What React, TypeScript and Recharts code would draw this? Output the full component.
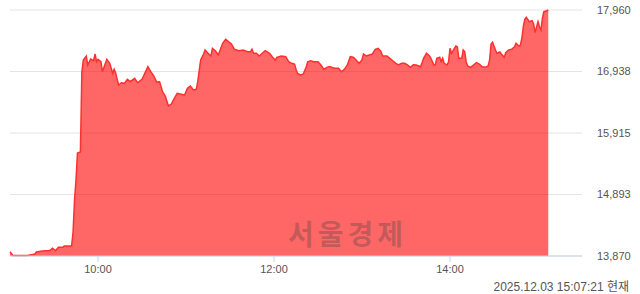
import React from 'react';
import { AreaChart, Area, XAxis, YAxis, CartesianGrid } from 'recharts';

// minutes after 09:00
const minutes = [
  0, 2, 7, 12, 17, 18, 22, 27, 29, 31, 33, 36, 37, 42, 43, 44, 45, 46, 48, 49,
  50, 52, 53, 55, 57, 58, 59, 60, 62, 63, 66, 68, 70, 71, 72, 74, 76, 78, 80, 82,
  85, 87, 90, 92, 94, 96, 98, 100, 102, 104, 106, 108, 110, 112, 114, 116, 119, 121, 123, 125,
  127, 128, 130, 132, 133, 135, 137, 138, 140, 142, 145, 147, 149, 151, 153, 156, 159, 162, 164, 165,
  166, 168, 170, 172, 174, 177, 179, 181, 182, 185, 188, 190, 192, 194, 195, 196, 198, 200, 202, 203,
  205, 207, 210, 212, 214, 216, 218, 221, 224, 226, 228, 230, 232, 234, 236, 238, 240, 241, 243, 245,
  247, 249, 251, 253, 254, 257, 259, 261, 263, 265, 267, 269, 271, 273, 275, 277, 280, 282, 284, 286,
  287, 289, 290, 291, 293, 294, 295, 296, 298, 299, 300, 301, 303, 304, 305, 306, 308, 309, 310, 311,
  312, 314, 316, 318, 320, 322, 324, 326, 327, 328, 329, 331, 332, 334, 335, 337, 338, 340, 342, 344,
  345, 347, 348, 349, 350, 351, 352, 353, 354, 356, 357, 358, 360, 361, 362, 363, 364, 366, 367,
];

const prices = [
  13940, 13880, 13880, 13880, 13903, 13936, 13953, 13961, 13998, 13958, 14015, 14015, 14036, 14036, 14269, 14801, 15134, 15582, 15599, 16929,
  17129, 17195, 17046, 17145, 17117, 17228, 17100, 17140, 17100, 16934, 17140, 17074, 16908, 16974, 16918, 16713, 16751, 16741, 16808, 16768,
  16824, 16751, 16808, 16913, 17017, 16934, 16863, 16763, 16768, 16602, 16519, 16364, 16397, 16492, 16575, 16563, 16547, 16658, 16696, 16630,
  16641, 16768, 17129, 17228, 17295, 17240, 17195, 17323, 17283, 17212, 17406, 17473, 17433, 17395, 17307, 17283, 17295, 17267, 17267, 17307,
  17240, 17240, 17195, 17240, 17283, 17240, 17174, 17129, 17174, 17195, 17184, 17100, 17074, 17062, 16974, 16908, 16879, 16896, 17017, 17100,
  17117, 17100, 17100, 17046, 16974, 17007, 17021, 16991, 16991, 16934, 16974, 17046, 17184, 17174, 17129, 17074, 17129, 17228, 17195, 17212,
  17228, 17307, 17323, 17267, 17195, 17195, 17157, 17117, 17074, 17046, 17074, 17074, 17046, 17007, 17051, 17046, 17017, 17157, 17240, 17195,
  17157, 17046, 17046, 17157, 17174, 17100, 17157, 17074, 17046, 17100, 17323, 17240, 17323, 17361, 17350, 17157, 17157, 17295, 17267, 17100,
  17029, 17007, 17046, 17084, 17062, 17017, 17007, 17029, 17129, 17395, 17423, 17295, 17240, 17262, 17228, 17174, 17250, 17295, 17307, 17350,
  17406, 17361, 17378, 17490, 17682, 17805, 17839, 17805, 17766, 17782, 17727, 17583, 17766, 17682, 17627, 17822, 17932, 17948, 17960,
];

const xTicks = [60, 180, 300];
const xTickLabels = ['10:00', '12:00', '14:00'];
const yTicks = [13870, 14893, 15915, 16938, 17960];
const stamp = '2025.12.03 15:07:21 현재';
const watermark = '서울경제';

const data = minutes.map((m, i) => ({ t: m, price: prices[i] }));

const FONT = '"Liberation Sans", Arial, "Noto Sans CJK KR", sans-serif';

export default function App() {
  return (
    <div style={{ position: 'absolute', left: 0, top: 0, width: 640, height: 294, background: '#fff' }}>
      <AreaChart width={640} height={294} data={data} margin={{ top: 10, right: 0, left: 10, bottom: 0 }}>
        <CartesianGrid vertical={false} stroke="#e4e4e4" />
        <XAxis
          dataKey="t"
          type="number"
          domain={[0, 390]}
          ticks={xTicks}
          tickFormatter={(v) => xTickLabels[xTicks.indexOf(v)] ?? ''}
          height={38}
          tickSize={6}
          tickMargin={3}
          axisLine={{ stroke: '#c6d4ea' }}
          tickLine={{ stroke: '#c6d4ea' }}
          tick={{ fill: '#555', fontSize: 11, fontFamily: FONT }}
        />
        <YAxis
          orientation="right"
          domain={[13870, 17960]}
          ticks={yTicks}
          width={58}
          axisLine={false}
          tickLine={false}
          tickSize={0}
          tickMargin={15}
          tickFormatter={(v) => v.toLocaleString('en-US')}
          tick={{ fill: '#555', fontSize: 11, fontFamily: FONT, textAnchor: 'start' }}
        />
        <Area
          type="linear"
          dataKey="price"
          stroke="#ff3030"
          strokeWidth={1.5}
          fill="#ff0000"
          fillOpacity={0.6}
          dot={false}
          activeDot={false}
          isAnimationActive={false}
        />
      </AreaChart>
      <svg width={640} height={294} style={{ position: 'absolute', left: 0, top: 0, pointerEvents: 'none' }}>
        <text
          x={288}
          y={245}
          fontSize={28}
          fontWeight="bold"
          letterSpacing={4}
          fontFamily='"Noto Sans CJK KR", sans-serif'
          fill="rgba(66,66,66,0.33)"
        >
          {watermark}
        </text>
        <text x={629} y={291} textAnchor="end" fontSize={12} fontFamily={FONT} fill="#555">
          {stamp}
        </text>
      </svg>
    </div>
  );
}
